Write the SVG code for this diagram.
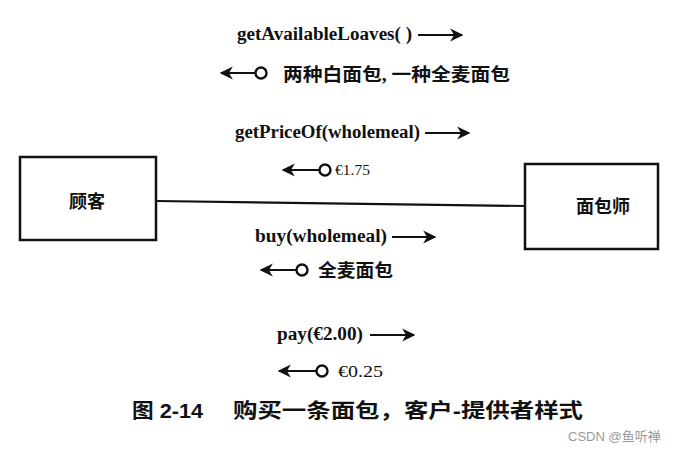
<svg xmlns="http://www.w3.org/2000/svg" width="683" height="455" viewBox="0 0 683 455">
<style>
.box{fill:#fff;stroke:#111;stroke-width:2.5}
.ln{stroke:#111;stroke-width:2.2;fill:none}
.ms{font-family:"Liberation Serif","Times New Roman",serif;font-weight:bold;font-size:18px;fill:#111}
.cn{font-family:"Liberation Serif","Noto Sans CJK SC",serif;font-weight:bold;font-size:18px;fill:#111}
.cir{fill:#fff;stroke:#111;stroke-width:2.4}
.cap{font-family:"Liberation Sans","Noto Sans CJK SC",sans-serif;font-weight:bold;font-size:20px;fill:#111}
.wm{font-family:"Liberation Sans","Noto Sans CJK SC",sans-serif;font-size:13px;fill:#999}
</style>
<defs>
<marker id="ah" viewBox="0 0 10 10" refX="9" refY="5" markerWidth="6" markerHeight="6" orient="auto-start-reverse" markerUnits="strokeWidth">
<path d="M0,0 L10,5 L0,10 L3,5 Z" fill="#111"/>
</marker>
</defs>
<rect width="683" height="455" fill="#fff"/>
<g id="connectors">
<line class="ln" x1="156" y1="201" x2="525" y2="206"/>
<line class="ln" x1="418" y1="35" x2="462" y2="35" marker-end="url(#ah)"/>
<line class="ln" x1="255" y1="73" x2="221" y2="73" marker-end="url(#ah)"/>
<line class="ln" x1="425" y1="133" x2="469" y2="133" marker-end="url(#ah)"/>
<line class="ln" x1="320" y1="170" x2="283" y2="170" marker-end="url(#ah)"/>
<line class="ln" x1="392" y1="237" x2="435" y2="237" marker-end="url(#ah)"/>
<line class="ln" x1="297" y1="270" x2="261" y2="270" marker-end="url(#ah)"/>
<line class="ln" x1="370" y1="335" x2="414" y2="335" marker-end="url(#ah)"/>
<line class="ln" x1="317" y1="371" x2="279" y2="371" marker-end="url(#ah)"/>
<circle class="cir" cx="261" cy="73" r="5.5"/>
<circle class="cir" cx="325" cy="170" r="5.5"/>
<circle class="cir" cx="302" cy="270" r="5.5"/>
<circle class="cir" cx="322" cy="371" r="5.5"/>
</g>
<g id="customer">
<rect class="box" x="20" y="157" width="136" height="83"/>
<text class="cn" x="87" y="208" text-anchor="middle">顾客</text>
</g>
<g id="baker">
<rect class="box" x="525" y="164" width="133" height="85"/>
<text class="cn" x="603" y="213" text-anchor="middle">面包师</text>
</g>
<g id="labels">
<text class="ms" x="237" y="40" textLength="175" lengthAdjust="spacingAndGlyphs">getAvailableLoaves( )</text>
<text class="cn" x="283" y="81" textLength="227" lengthAdjust="spacingAndGlyphs">两种白面包, 一种全麦面包</text>
<text class="ms" x="235" y="138" textLength="185" lengthAdjust="spacingAndGlyphs">getPriceOf(wholemeal)</text>
<text class="ms" x="335" y="175" style="font-size:14px;font-weight:normal" textLength="35" lengthAdjust="spacingAndGlyphs">€1.75</text>
<text class="ms" x="255" y="242" textLength="132" lengthAdjust="spacingAndGlyphs">buy(wholemeal)</text>
<text class="cn" x="318" y="277" textLength="75" lengthAdjust="spacingAndGlyphs">全麦面包</text>
<text class="ms" x="277" y="340" textLength="86" lengthAdjust="spacingAndGlyphs">pay(€2.00)</text>
<text class="ms" x="338" y="377" style="font-size:16px;font-weight:normal" textLength="45" lengthAdjust="spacingAndGlyphs">€0.25</text>
</g>
<g id="caption">
<text class="cap" x="132" y="418" textLength="71" lengthAdjust="spacingAndGlyphs">图 2-14</text>
<text class="cap" x="233" y="418" textLength="350" lengthAdjust="spacingAndGlyphs">购买一条面包，客户-提供者样式</text>
<text class="wm" x="568" y="441">CSDN @鱼听禅</text>
</g>
</svg>
